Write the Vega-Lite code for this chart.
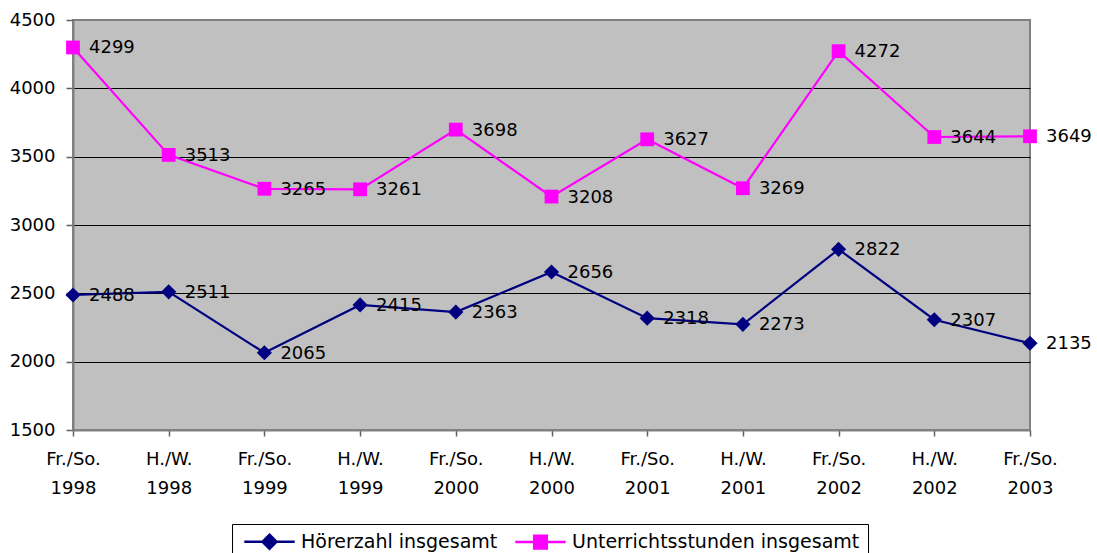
{
  "$schema": "https://vega.github.io/schema/vega-lite/v6.json",
  "width": 957,
  "height": 410,
  "autosize": "none",
  "padding": {"left": 73, "top": 20, "right": 67, "bottom": 123},
  "config": {
    "font": "DejaVu Sans",
    "view": {"fill": "#C0C0C0", "stroke": "#808080", "strokeWidth": 2}
  },
  "data": {
    "values": [
      {"period": "Fr./So. 1998", "series": "Hörerzahl insgesamt", "value": 2488},
      {"period": "H./W. 1998", "series": "Hörerzahl insgesamt", "value": 2511},
      {"period": "Fr./So. 1999", "series": "Hörerzahl insgesamt", "value": 2065},
      {"period": "H./W. 1999", "series": "Hörerzahl insgesamt", "value": 2415},
      {"period": "Fr./So. 2000", "series": "Hörerzahl insgesamt", "value": 2363},
      {"period": "H./W. 2000", "series": "Hörerzahl insgesamt", "value": 2656},
      {"period": "Fr./So. 2001", "series": "Hörerzahl insgesamt", "value": 2318},
      {"period": "H./W. 2001", "series": "Hörerzahl insgesamt", "value": 2273},
      {"period": "Fr./So. 2002", "series": "Hörerzahl insgesamt", "value": 2822},
      {"period": "H./W. 2002", "series": "Hörerzahl insgesamt", "value": 2307},
      {"period": "Fr./So. 2003", "series": "Hörerzahl insgesamt", "value": 2135},
      {"period": "Fr./So. 1998", "series": "Unterrichtsstunden insgesamt", "value": 4299},
      {"period": "H./W. 1998", "series": "Unterrichtsstunden insgesamt", "value": 3513},
      {"period": "Fr./So. 1999", "series": "Unterrichtsstunden insgesamt", "value": 3265},
      {"period": "H./W. 1999", "series": "Unterrichtsstunden insgesamt", "value": 3261},
      {"period": "Fr./So. 2000", "series": "Unterrichtsstunden insgesamt", "value": 3698},
      {"period": "H./W. 2000", "series": "Unterrichtsstunden insgesamt", "value": 3208},
      {"period": "Fr./So. 2001", "series": "Unterrichtsstunden insgesamt", "value": 3627},
      {"period": "H./W. 2001", "series": "Unterrichtsstunden insgesamt", "value": 3269},
      {"period": "Fr./So. 2002", "series": "Unterrichtsstunden insgesamt", "value": 4272},
      {"period": "H./W. 2002", "series": "Unterrichtsstunden insgesamt", "value": 3644},
      {"period": "Fr./So. 2003", "series": "Unterrichtsstunden insgesamt", "value": 3649}
    ]
  },
  "encoding": {
    "x": {
      "field": "period",
      "type": "ordinal",
      "sort": ["Fr./So. 1998", "H./W. 1998", "Fr./So. 1999", "H./W. 1999", "Fr./So. 2000", "H./W. 2000", "Fr./So. 2001", "H./W. 2001", "Fr./So. 2002", "H./W. 2002", "Fr./So. 2003"],
      "scale": {"type": "point", "padding": 0},
      "axis": {
        "title": null,
        "labelAngle": 0,
        "labelExpr": "split(datum.label, ' ')",
        "labelFontSize": 18,
        "labelColor": "#000000",
        "labelLineHeight": 29,
        "labelPadding": 14,
        "labelBaseline": "top",
        "tickSize": 6,
        "tickColor": "#606060",
        "tickWidth": 1.5,
        "domainColor": "#808080",
        "domainWidth": 2,
        "grid": false
      }
    },
    "y": {
      "field": "value",
      "type": "quantitative",
      "scale": {"domain": [1500, 4500], "nice": false, "zero": false},
      "axis": {
        "title": null,
        "format": "d",
        "values": [1500, 2000, 2500, 3000, 3500, 4000, 4500],
        "labelFontSize": 18,
        "labelColor": "#000000",
        "labelPadding": 11,
        "tickSize": 7,
        "tickColor": "#606060",
        "tickWidth": 1.5,
        "domainColor": "#808080",
        "domainWidth": 2,
        "grid": true,
        "gridColor": {"condition": {"test": "datum.value === 1500 || datum.value === 4500", "value": "transparent"}, "value": "#000000"},
        "gridWidth": 1,
        "gridOpacity": 1
      }
    },
    "color": {
      "field": "series",
      "type": "nominal",
      "scale": {"domain": ["Hörerzahl insgesamt", "Unterrichtsstunden insgesamt"], "range": ["#000080", "#FF00FF"]},
      "legend": {
        "title": null,
        "orient": "none",
        "direction": "horizontal",
        "legendX": 159,
        "legendY": 504,
        "padding": 8,
        "strokeColor": "#000000",
        "fillColor": "#FFFFFF",
        "labelFontSize": 19,
        "labelColor": "#000000",
        "labelLimit": 400,
        "symbolSize": 196,
        "symbolStrokeWidth": 2,
        "symbolOffset": 20,
        "labelOffset": 22,
        "columnPadding": 12,
        "encode": {
          "symbols": {
            "update": {
              "shape": {"signal": "datum.value === 'Hörerzahl insgesamt' ? 'M-3.6,0H3.6M0,-1L1,0L0,1L-1,0Z' : 'M-3.6,0H3.6M-0.9,-0.9H0.9V0.9H-0.9Z'"},
              "fill": {"signal": "datum.value === 'Hörerzahl insgesamt' ? '#000080' : '#FF00FF'"},
              "stroke": {"signal": "datum.value === 'Hörerzahl insgesamt' ? '#000080' : '#FF00FF'"},
              "strokeWidth": {"value": 2.5},
              "opacity": {"value": 1}
            }
          }
        }
      }
    }
  },
  "layer": [
    {
      "mark": {"type": "line", "strokeWidth": 2.2}
    },
    {
      "transform": [{"filter": "datum.series === 'Hörerzahl insgesamt'"}],
      "mark": {"type": "point", "shape": "diamond", "filled": true, "opacity": 1, "size": 230}
    },
    {
      "transform": [{"filter": "datum.series === 'Unterrichtsstunden insgesamt'"}],
      "mark": {"type": "point", "shape": "square", "filled": true, "opacity": 1, "size": 190}
    },
    {
      "mark": {"type": "text", "align": "left", "baseline": "middle", "dx": 16, "dy": 1, "fontSize": 18, "color": "#000000"},
      "encoding": {
        "text": {"field": "value", "type": "quantitative", "format": "d"},
        "color": {"value": "#000000"}
      }
    }
  ]
}
